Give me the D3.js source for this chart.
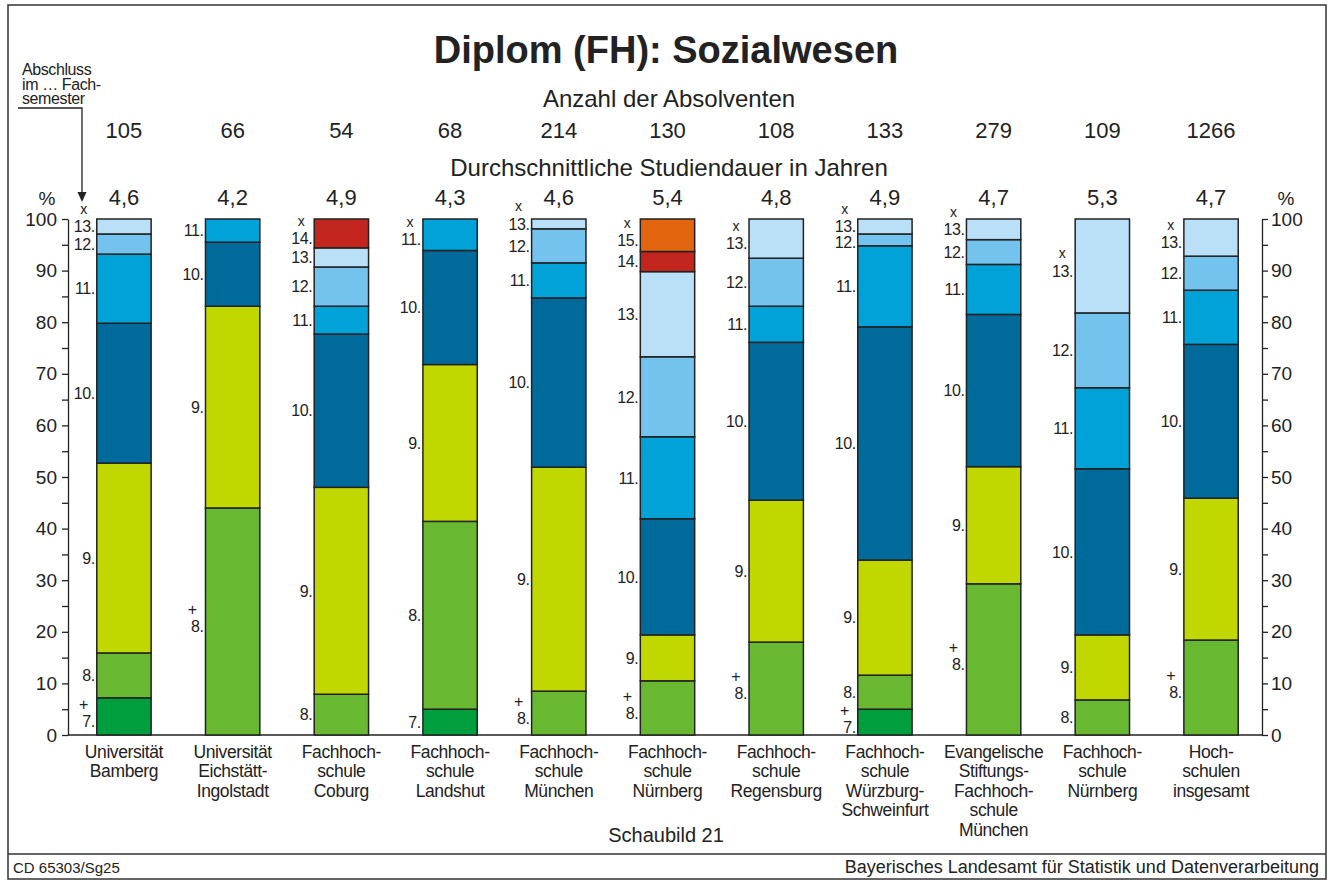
<!DOCTYPE html>
<html>
<head>
<meta charset="utf-8">
<script src="https://cdn.jsdelivr.net/npm/d3@7"></script>
<style>
  body { margin: 0; background: #fff; }
  text { font-family: "Liberation Sans", Arial, sans-serif; fill: #222; }
  .narrow { letter-spacing: -0.4px; }
</style>
</head>
<body>
<script>
// Hochschulen (Beschriftung zeilenweise)
var hochschulen = [
    ["Universität", "Bamberg"],
    ["Universität", "Eichstätt-", "Ingolstadt"],
    ["Fachhoch-", "schule", "Coburg"],
    ["Fachhoch-", "schule", "Landshut"],
    ["Fachhoch-", "schule", "München"],
    ["Fachhoch-", "schule", "Nürnberg"],
    ["Fachhoch-", "schule", "Regensburg"],
    ["Fachhoch-", "schule", "Würzburg-", "Schweinfurt"],
    ["Evangelische", "Stiftungs-", "Fachhoch-", "schule", "München"],
    ["Fachhoch-", "schule", "Nürnberg"],
    ["Hoch-", "schulen", "insgesamt"]
];
var absolventen = [105, 66, 54, 68, 214, 130, 108, 133, 279, 109, 1266];
var studiendauer = ["4,6", "4,2", "4,9", "4,3", "4,6", "5,4", "4,8", "4,9", "4,7", "5,3", "4,7"];

// Fachsemester 7. bis 15.
var semester = [7, 8, 9, 10, 11, 12, 13, 14, 15];
// Anteil der Absolventen in % je Fachsemester (Reihenfolge wie semester)
var anteile = [
    [7.2, 8.7, 36.8, 27.1, 13.4, 3.9, 2.9, 0, 0],
    [0, 44.0, 39.1, 12.4, 4.5, 0, 0, 0, 0],
    [0, 7.9, 40.1, 29.7, 5.4, 7.6, 3.7, 5.6, 0],
    [5.0, 36.4, 30.4, 22.1, 6.1, 0, 0, 0, 0],
    [0, 8.5, 43.4, 32.8, 6.8, 6.6, 1.9, 0, 0],
    [0, 10.5, 8.9, 22.5, 15.9, 15.5, 16.5, 3.9, 6.3],
    [0, 18.0, 27.5, 30.6, 7.0, 9.3, 7.6, 0, 0],
    [5.0, 6.6, 22.3, 45.2, 15.7, 2.3, 2.9, 0, 0],
    [0, 29.3, 22.7, 29.5, 9.7, 4.8, 4.0, 0, 0],
    [0, 6.8, 12.6, 32.2, 15.7, 14.5, 18.2, 0, 0],
    [0, 18.4, 27.5, 29.8, 10.5, 6.6, 7.2, 0, 0]
];
// "x" = und mehr (oberstes Semester), "+" = und weniger (unterstes Semester)
var undMehr = [1, 0, 1, 1, 1, 1, 1, 1, 1, 1, 1];
var undWeniger = [1, 1, 0, 0, 1, 1, 1, 1, 1, 0, 1];

var farben = ["#009e3d", "#69b832", "#c1d800", "#006a9b", "#00a2d8", "#74c3ee", "#b9e0f6", "#c3261e", "#e3650f"];

var width = 1332, height = 882;

var svg = d3.select("body")
    .append("svg")
    .attr("width", width)
    .attr("height", height);

// Rahmen
svg.append("rect")
    .attr("x", 8).attr("y", 5)
    .attr("width", 1318).attr("height", 874)
    .style("fill", "none").style("stroke", "#333").style("stroke-width", 1.5);
svg.append("line")
    .attr("x1", 8).attr("x2", 1326).attr("y1", 854).attr("y2", 854)
    .style("stroke", "#333").style("stroke-width", 1.5);

var x = d3.scaleBand()
    .domain(d3.range(hochschulen.length))
    .range([69.6, 1265.4])
    .paddingInner(0.5)
    .paddingOuter(0.25);

var y = d3.scaleLinear()
    .domain([0, 100])
    .range([735, 219]);

var farbe = d3.scaleOrdinal().domain(semester).range(farben);

// Titel und Kopfzeilen
svg.append("text")
    .attr("x", 666).attr("y", 63)
    .attr("text-anchor", "middle")
    .style("font-size", "38px").style("font-weight", "bold")
    .text("Diplom (FH): Sozialwesen");
svg.append("text")
    .attr("x", 669).attr("y", 107)
    .attr("text-anchor", "middle")
    .style("font-size", "24px")
    .text("Anzahl der Absolventen");
svg.append("text")
    .attr("x", 669).attr("y", 176)
    .attr("text-anchor", "middle")
    .style("font-size", "24px")
    .text("Durchschnittliche Studiendauer in Jahren");

svg.selectAll(".anzahl")
    .data(absolventen)
    .enter()
    .append("text")
    .attr("class", "anzahl")
    .attr("x", function(d, i) { return x(i) + x.bandwidth() / 2; })
    .attr("y", 138)
    .attr("text-anchor", "middle")
    .style("font-size", "22px")
    .text(function(d) { return d; });

svg.selectAll(".dauer")
    .data(studiendauer)
    .enter()
    .append("text")
    .attr("class", "dauer")
    .attr("x", function(d, i) { return x(i) + x.bandwidth() / 2; })
    .attr("y", 205)
    .attr("text-anchor", "middle")
    .style("font-size", "22px")
    .text(function(d) { return d; });

// Achsen
var tickWerte = d3.range(0, 101, 5);
var tickText = function(d) { return d % 10 == 0 ? d : ""; };

var axisL = svg.append("g")
    .attr("transform", "translate(68,0)")
    .call(d3.axisLeft(y).tickValues(tickWerte).tickFormat(tickText).tickSize(6).tickSizeOuter(0));
var axisR = svg.append("g")
    .attr("transform", "translate(1262,0)")
    .call(d3.axisRight(y).tickValues(tickWerte).tickFormat(tickText).tickSize(6).tickSizeOuter(0));
[axisL, axisR].forEach(function(a) {
    a.selectAll("path, line").style("stroke", "#222").style("stroke-width", 1.3);
    a.selectAll("text").style("font-size", "19px").style("fill", "#222")
        .style("font-family", "'Liberation Sans', Arial, sans-serif");
});
axisL.selectAll("text").attr("x", -11);
axisR.selectAll("text").attr("x", 9);

svg.append("text").attr("x", 47).attr("y", 205).attr("text-anchor", "middle")
    .style("font-size", "19px").text("%");
svg.append("text").attr("x", 1286).attr("y", 205).attr("text-anchor", "middle")
    .style("font-size", "19px").text("%");

// Grundlinie
svg.append("line")
    .attr("x1", 68).attr("x2", 1262)
    .attr("y1", y(0)).attr("y2", y(0))
    .style("stroke", "#222").style("stroke-width", 1.5);

// Segmente aufbauen
var segmente = [];
anteile.forEach(function(werte, i) {
    var sum = 0;
    var liste = [];
    werte.forEach(function(v, k) {
        if (v > 0) {
            liste.push({ col: i, sem: semester[k], y0: sum, y1: sum + v });
            sum += v;
        }
    });
    liste.forEach(function(s, k) {
        s.unten = (k == 0 && undWeniger[i] == 1);
        s.oben = (k == liste.length - 1 && undMehr[i] == 1);
        var h = y(s.y0) - y(s.y1);
        s.ly = (y(s.y0) + y(s.y1)) / 2;
        if ((s.unten || s.oben) && h > 25) s.ly += 5;
    });
    // Mindestabstand von oben nach unten
    for (var k = liste.length - 2; k >= 0; k--) {
        if (liste[k].ly - liste[k + 1].ly < 16) liste[k].ly = liste[k + 1].ly + 16;
    }
    // Platz fuer "+" ueber dem untersten Wert
    if (liste[0].unten && liste.length > 1 && liste[0].ly - liste[1].ly < 33) {
        liste[1].ly = liste[0].ly - 33;
    }
    liste.forEach(function(s) { segmente.push(s); });
});

svg.selectAll(".seg")
    .data(segmente)
    .enter()
    .append("rect")
    .attr("class", "seg")
    .attr("x", function(d) { return x(d.col); })
    .attr("width", x.bandwidth())
    .attr("y", function(d) { return y(d.y1); })
    .attr("height", function(d) { return y(d.y0) - y(d.y1); })
    .style("fill", function(d) { return farbe(d.sem); })
    .style("stroke", "#222")
    .style("stroke-width", 1.5);

svg.selectAll(".seglabel")
    .data(segmente)
    .enter()
    .append("text")
    .attr("class", "seglabel narrow")
    .attr("x", function(d) { return x(d.col) - 2; })
    .attr("y", function(d) { return d.ly; })
    .attr("dy", "0.36em")
    .attr("text-anchor", "end")
    .style("font-size", "16px")
    .text(function(d) { return d.sem + "."; });

svg.selectAll(".mehr")
    .data(segmente.filter(function(d) { return d.oben; }))
    .enter()
    .append("text")
    .attr("class", "mehr")
    .attr("x", function(d) { return x(d.col) - 13; })
    .attr("y", function(d) { return d.ly - 16; })
    .attr("dy", "0.25em")
    .attr("text-anchor", "middle")
    .style("font-size", "14px")
    .text("x");

svg.selectAll(".weniger")
    .data(segmente.filter(function(d) { return d.unten; }))
    .enter()
    .append("text")
    .attr("class", "weniger")
    .attr("x", function(d) { return x(d.col) - 13; })
    .attr("y", function(d) { return d.ly - 17; })
    .attr("dy", "0.36em")
    .attr("text-anchor", "middle")
    .style("font-size", "16px")
    .text("+");

// Namen der Hochschulen
var namen = svg.selectAll(".name")
    .data(hochschulen)
    .enter()
    .append("text")
    .attr("class", "name narrow")
    .attr("text-anchor", "middle")
    .style("font-size", "17.5px");
namen.selectAll("tspan")
    .data(function(d, i) { return d.map(function(z) { return { z: z, i: i }; }); })
    .enter()
    .append("tspan")
    .attr("x", function(d) { return x(d.i) + x.bandwidth() / 2; })
    .attr("y", function(d, k) { return 758 + k * 19.4; })
    .text(function(d) { return d.z; });

svg.append("text")
    .attr("x", 666).attr("y", 842)
    .attr("text-anchor", "middle")
    .style("font-size", "20px")
    .text("Schaubild 21");

// Hinweis oben links
var hinweis = svg.append("text").attr("class", "narrow").style("font-size", "16px");
["Abschluss", "im … Fach-", "semester"].forEach(function(z, k) {
    hinweis.append("tspan").attr("x", 22).attr("y", 75 + k * 14.5).text(z);
});
svg.append("path")
    .attr("d", "M18,108 H82 V196")
    .style("fill", "none").style("stroke", "#222").style("stroke-width", 1.3);
svg.append("path")
    .attr("d", "M77.5,192 L86.5,192 L82,202 Z")
    .style("fill", "#222");

// Fusszeile
svg.append("text")
    .attr("x", 13).attr("y", 873)
    .style("font-size", "15px")
    .text("CD 65303/Sg25");
svg.append("text")
    .attr("x", 1319).attr("y", 873)
    .attr("text-anchor", "end")
    .style("font-size", "18px")
    .text("Bayerisches Landesamt für Statistik und Datenverarbeitung");
</script>
</body>
</html>
